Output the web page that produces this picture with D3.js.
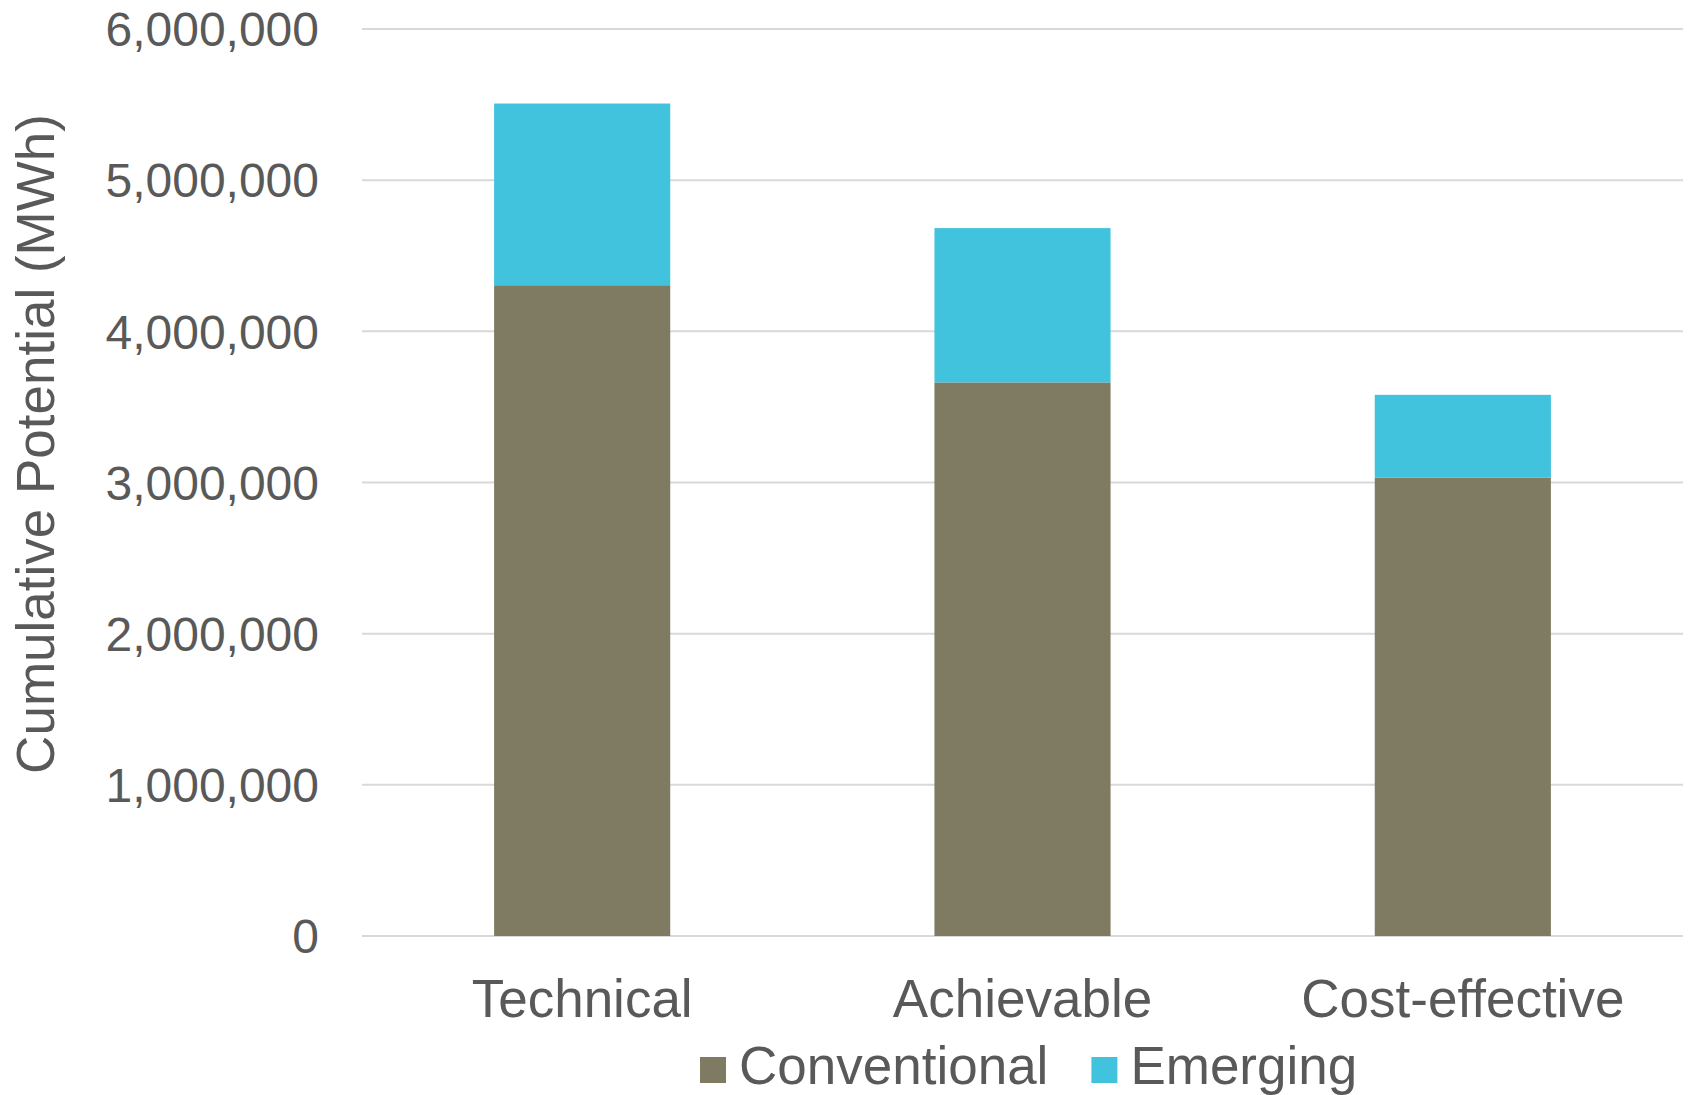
<!DOCTYPE html>
<html>
<head>
<meta charset="utf-8">
<script src="https://cdn.jsdelivr.net/npm/d3@7"></script>
<style>
  html, body { margin: 0; padding: 0; background: #fff; }
  svg { display: block; font-family: "Liberation Sans", Arial, sans-serif; }
</style>
</head>
<body>
<svg id="chart" width="1694" height="1095"></svg>
<script>
// Cumulative savings potential by scenario (MWh)
const categories = ["Technical", "Achievable", "Cost-effective"];
const seriesNames = ["Conventional", "Emerging"];
const conventional = [4305000, 3662000, 3031000];
const emerging = [1202000, 1021000, 549000];
const yTicks = [0, 1000000, 2000000, 3000000, 4000000, 5000000, 6000000];
const yTitle = "Cumulative Potential (MWh)";
const seriesColors = ["#7f7b62", "#42c3dd"];

const svg = d3.select("#chart");
const margin = { left: 362, right: 11, top: 29, bottom: 159 };
const W = 1694, H = 1095;
const textColor = "#595959";

const x = d3.scaleBand()
  .domain(categories)
  .range([margin.left, W - margin.right])
  .paddingInner(0.6)
  .paddingOuter(0.3);

const y = d3.scaleLinear()
  .domain([0, 6000000])
  .range([H - margin.bottom, margin.top]);

// horizontal gridlines
svg.append("g")
  .selectAll("line")
  .data(yTicks)
  .join("line")
  .attr("x1", margin.left)
  .attr("x2", W - margin.right)
  .attr("y1", d => y(d))
  .attr("y2", d => y(d))
  .attr("stroke", "#d9d9d9")
  .attr("stroke-width", 2);

// stacked bars
const rows = categories.map((c, i) => ({ category: c, Conventional: conventional[i], Emerging: emerging[i] }));
const stacked = d3.stack().keys(seriesNames)(rows);

svg.append("g")
  .selectAll("g")
  .data(stacked)
  .join("g")
  .attr("fill", (d, i) => seriesColors[i])
  .selectAll("rect")
  .data(d => d)
  .join("rect")
  .attr("x", d => x(d.data.category))
  .attr("width", x.bandwidth())
  .attr("y", d => y(d[1]))
  .attr("height", d => y(d[0]) - y(d[1]));

// y axis tick labels
const fmt = d3.format(",");
const yAxis = d3.axisLeft(y).tickValues(yTicks).tickFormat(fmt).tickSize(0).tickPadding(0);
const yg = svg.append("g")
  .attr("transform", `translate(${319},0)`)
  .call(yAxis);
yg.select(".domain").remove();
yg.selectAll("text")
  .attr("fill", textColor)
  .attr("font-size", 48)
  .attr("font-family", "Liberation Sans, Arial, sans-serif")
  .attr("dy", "0.35em");

// x axis category labels
const xAxis = d3.axisBottom(x).tickSize(0).tickPadding(0);
const xg = svg.append("g")
  .attr("transform", `translate(0,${1017})`)
  .call(xAxis);
xg.select(".domain").remove();
xg.selectAll("text")
  .attr("fill", textColor)
  .attr("font-size", 53)
  .attr("font-family", "Liberation Sans, Arial, sans-serif")
  .attr("dy", 0)
  .attr("y", 0);

// y axis title
svg.append("text")
  .attr("transform", `translate(54,${444}) rotate(-90)`)
  .attr("text-anchor", "middle")
  .attr("fill", textColor)
  .attr("font-size", 53)
  .text(yTitle);

// legend
const legend = svg.append("g");
const items = legend.selectAll("g")
  .data(seriesNames)
  .join("g");
items.append("rect")
  .attr("width", 26)
  .attr("height", 26)
  .attr("y", 1057)
  .attr("fill", (d, i) => seriesColors[i]);
items.append("text")
  .attr("x", 39)
  .attr("y", 1084)
  .attr("fill", textColor)
  .attr("font-size", 53)
  .text(d => d);

let cursor = 700;
items.each(function () {
  const g = d3.select(this);
  g.attr("transform", `translate(${cursor},0)`);
  const w = g.select("text").node().getComputedTextLength();
  cursor += 39 + w + 43;
});
</script>
</body>
</html>
